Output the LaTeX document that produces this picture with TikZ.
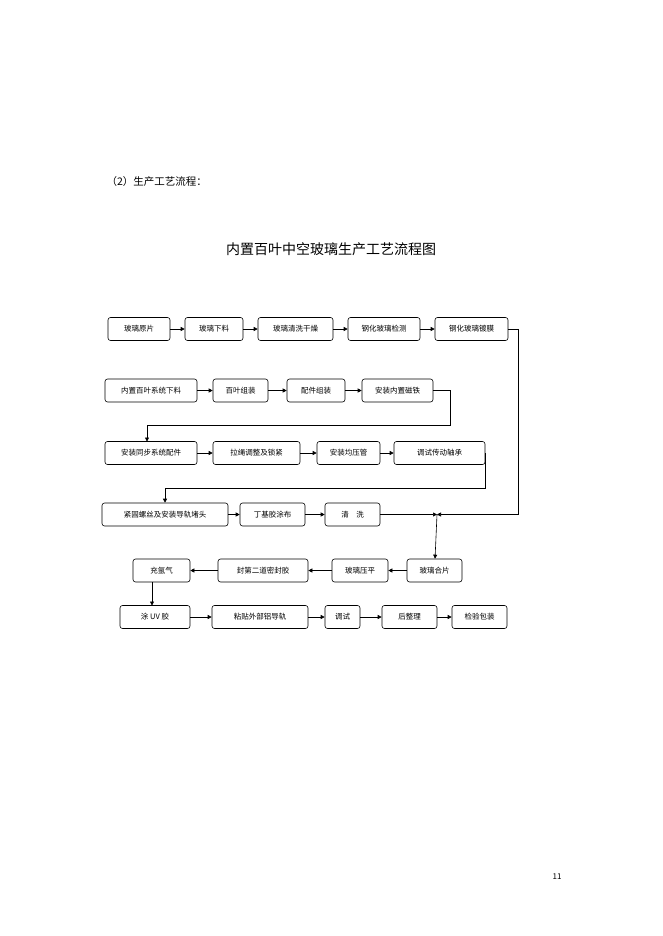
\documentclass[tikz,border=0pt]{standalone}
\usepackage{fontspec}
\setmainfont{Noto Sans CJK SC}
\usetikzlibrary{arrows.meta, positioning}

\begin{document}
\begin{tikzpicture}[x=1pt, y=-1pt,
    procbox/.style={rectangle, rounded corners=2.5pt, draw=black, line width=0.6pt, inner sep=0pt, minimum height=23pt, font=\fontsize{7.5}{8}\selectfont},
    arrow/.style={-{Triangle[length=4pt, width=4pt]}, line width=0.6pt}
]
\useasboundingbox (0,0) rectangle (662,936);

\node[anchor=west, font=\fontsize{10.5}{12}\selectfont] (heading) at (103,182) {（2）生产工艺流程：};
\node[font=\fontsize{14}{16}\selectfont] (title) at (331,249) {内置百叶中空玻璃生产工艺流程图};
\node[font=\fontsize{8}{9}\selectfont] (pageno) at (557,877) {11};

% row 1
\node[procbox, minimum width=62pt] (yuanpian) at (139,329) {玻璃原片};
\node[procbox, minimum width=58pt] (xialiao) at (214,329) {玻璃下料};
\node[procbox, minimum width=75pt] (qingxi) at (295.5,329) {玻璃清洗干燥};
\node[procbox, minimum width=72pt] (jiance) at (384,329) {钢化玻璃检测};
\node[procbox, minimum width=73pt] (dumo) at (471.5,329) {钢化玻璃镀膜};

% row 2
\node[procbox, minimum width=92pt] (baiye) at (151,390.5) {内置百叶系统下料};
\node[procbox, minimum width=55pt] (zuzhuang) at (240.5,390.5) {百叶组装};
\node[procbox, minimum width=58pt] (peijian) at (316,390.5) {配件组装};
\node[procbox, minimum width=71pt] (citie) at (397.5,390.5) {安装内置磁铁};

% row 3
\node[procbox, minimum width=92pt] (tongbu) at (151,453) {安装同步系统配件};
\node[procbox, minimum width=87pt] (lasheng) at (256.5,453) {拉绳调整及锁紧};
\node[procbox, minimum width=63pt] (junya) at (348.5,453) {安装均压管};
\node[procbox, minimum width=91pt] (zhoucheng) at (439.5,453) {调试传动轴承};

% row 4
\node[procbox, minimum width=126pt] (jingu) at (165,514.5) {紧固螺丝及安装导轨堵头};
\node[procbox, minimum width=65pt] (dingji) at (272.5,514.5) {丁基胶涂布};
\node[procbox, minimum width=55pt] (qingxi2) at (352.5,514.5) {清\quad 洗};
\coordinate (junction) at (437,514.5);

% row 5
\node[procbox, minimum width=57pt] (chongqi) at (161.5,570.5) {充氩气};
\node[procbox, minimum width=90pt] (fengjiao) at (263,570.5) {封第二道密封胶};
\node[procbox, minimum width=56pt] (yaping) at (360,570.5) {玻璃压平};
\node[procbox, minimum width=55pt] (hepian) at (434.5,570.5) {玻璃合片};

% row 6
\node[procbox, minimum width=70pt] (uvjiao) at (155,617) {涂 UV 胶};
\node[procbox, minimum width=96pt] (lvdaogui) at (260,617) {粘贴外部铝导轨};
\node[procbox, minimum width=35pt] (tiaoshi) at (342.5,617) {调试};
\node[procbox, minimum width=55pt] (zhengli) at (409.5,617) {后整理};
\node[procbox, minimum width=55pt] (baozhuang) at (479.5,617) {检验包装};

\draw[arrow] (yuanpian) -- (xialiao);
\draw[arrow] (xialiao) -- (qingxi);
\draw[arrow] (qingxi) -- (jiance);
\draw[arrow] (jiance) -- (dumo);
\draw[arrow] (dumo.east) -| (518,514.5) -- (junction);

\draw[arrow] (baiye) -- (zuzhuang);
\draw[arrow] (zuzhuang) -- (peijian);
\draw[arrow] (peijian) -- (citie);
\draw[arrow] (citie.east) -| (450,425) -| (147,441.5);

\draw[arrow] (tongbu) -- (lasheng);
\draw[arrow] (lasheng) -- (junya);
\draw[arrow] (junya) -- (zhoucheng);
\draw[arrow] (zhoucheng.east) -| (485,488) -| (jingu.north);

\draw[arrow] (jingu) -- (dingji);
\draw[arrow] (dingji) -- (qingxi2);
\draw[arrow] (qingxi2) -- (junction);
\draw[arrow] (junction) -- (hepian);

\draw[arrow] (hepian) -- (yaping);
\draw[arrow] (yaping) -- (fengjiao);
\draw[arrow] (fengjiao) -- (chongqi);
\draw[arrow] (152,582) -- (152,605.5);

\draw[arrow] (uvjiao) -- (lvdaogui);
\draw[arrow] (lvdaogui) -- (tiaoshi);
\draw[arrow] (tiaoshi) -- (zhengli);
\draw[arrow] (zhengli) -- (baozhuang);
\end{tikzpicture}
\end{document}
